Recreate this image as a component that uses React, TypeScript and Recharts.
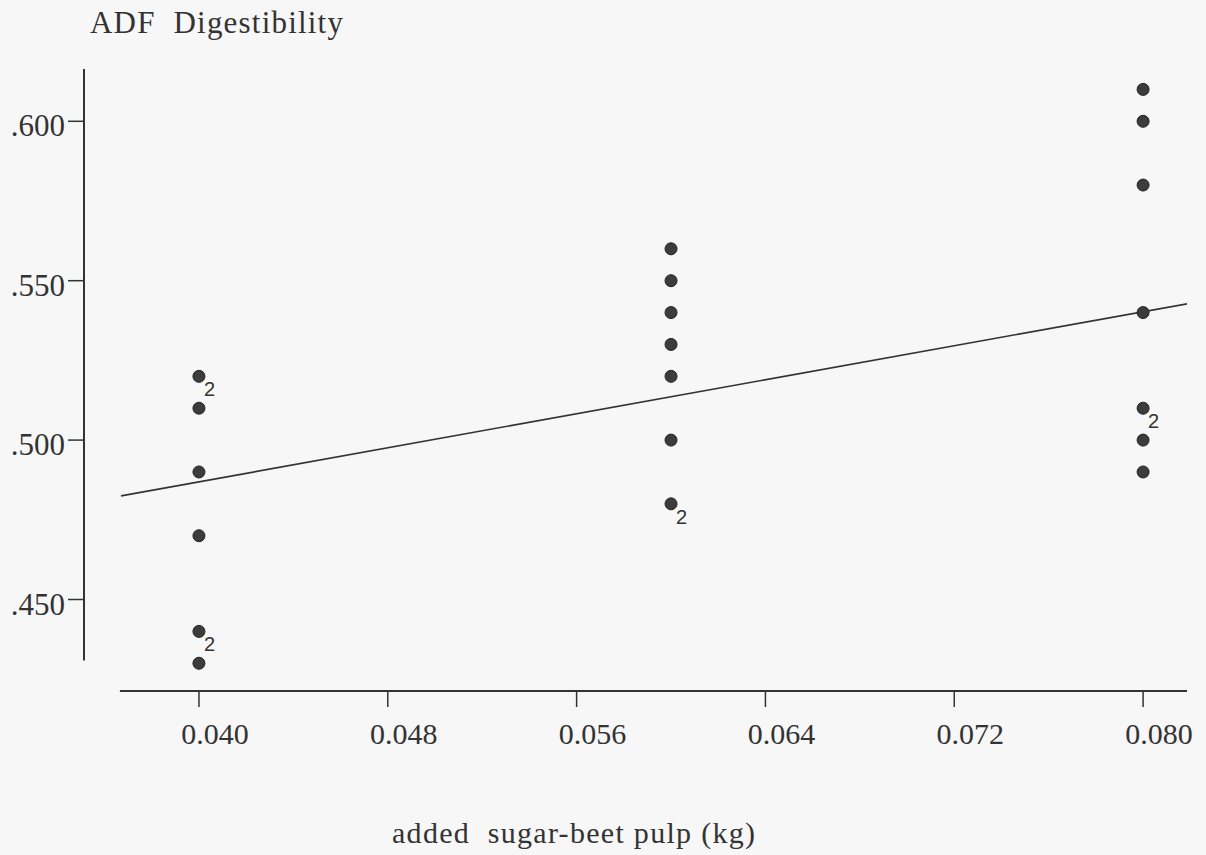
import React from 'react';
import { ScatterChart, Scatter, XAxis, YAxis, ReferenceLine } from 'recharts';

// pulp levels (kg) and the digestibility readings at each, with how many
// observations share the same value
const LEVELS = [0.04, 0.06, 0.08];
const LOW_VALUES = [0.52, 0.51, 0.49, 0.47, 0.44, 0.43];
const LOW_COUNTS = [2, 1, 1, 1, 2, 1];
const MID_VALUES = [0.56, 0.55, 0.54, 0.53, 0.52, 0.5, 0.48];
const MID_COUNTS = [1, 1, 1, 1, 1, 1, 2];
const HIGH_VALUES = [0.61, 0.6, 0.58, 0.54, 0.51, 0.5, 0.49];
const HIGH_COUNTS = [1, 1, 1, 1, 2, 1, 1];

// fitted line end points
const FIT_X = [0.0367, 0.0819];
const FIT_Y = [0.4825, 0.5428];

const X_TICKS = [0.04, 0.048, 0.056, 0.064, 0.072, 0.08];
const Y_TICKS = [0.45, 0.5, 0.55, 0.6];

const X_DOMAIN = [0.03513, 0.08186];
const Y_DOMAIN = [0.4213, 0.6164];
const Y_AXIS_BOTTOM = 0.4309;
const X_AXIS_START = 0.03665;

const groups = [
  { x: LEVELS[0], values: LOW_VALUES, counts: LOW_COUNTS },
  { x: LEVELS[1], values: MID_VALUES, counts: MID_COUNTS },
  { x: LEVELS[2], values: HIGH_VALUES, counts: HIGH_COUNTS },
];

const points = groups.flatMap((g) =>
  g.values.map((v, i) => ({ x: g.x, y: v, n: g.counts[i] }))
);

const fitLine = FIT_X.map((x, i) => ({ x, y: FIT_Y[i] }));

const INK = '#333';
const SERIF = '"Liberation Serif", "Times New Roman", serif';

const Dot = (props: any) => {
  const { cx, cy, payload } = props;
  return (
    <g>
      <circle cx={cx} cy={cy} r={6} fill="#3c3c3c" stroke="#222" strokeWidth={1} />
      {payload.n > 1 && (
        <text
          x={cx + 5}
          y={cy + 20}
          fontSize={20}
          fontFamily='"Liberation Sans", Arial, sans-serif'
          fill={INK}
        >
          {payload.n}
        </text>
      )}
    </g>
  );
};

const XTick = (props: any) => {
  const { x, y, payload } = props;
  return (
    <text
      x={x + 16}
      y={y}
      dy="0.71em"
      textAnchor="middle"
      fontSize={30}
      fontFamily={SERIF}
      fill={INK}
    >
      {payload.value.toFixed(3)}
    </text>
  );
};

const YTick = (props: any) => {
  const { x, y, payload } = props;
  return (
    <text
      x={x}
      y={y + 4}
      dy="0.36em"
      textAnchor="end"
      fontSize={31}
      fontFamily={SERIF}
      fill={INK}
    >
      {'.' + payload.value.toFixed(3).slice(2)}
    </text>
  );
};

export default function App() {
  return (
    <div
      style={{
        position: 'fixed',
        left: 0,
        top: 0,
        width: 1206,
        height: 855,
        background: '#f7f7f7',
        fontFamily: SERIF,
        color: INK,
      }}
    >
      <div
        style={{
          position: 'absolute',
          left: 90,
          top: 7,
          fontSize: 31,
          lineHeight: '31px',
          letterSpacing: 1.2,
          whiteSpace: 'pre',
        }}
      >
        ADF  Digestibility
      </div>
      <ScatterChart
        width={1206}
        height={855}
        margin={{ top: 69, right: 19, bottom: 0, left: 0 }}
      >
        <XAxis
          type="number"
          dataKey="x"
          domain={X_DOMAIN}
          ticks={X_TICKS}
          allowDataOverflow
          axisLine={false}
          tickLine={{ stroke: INK, strokeWidth: 1.5 }}
          tickSize={16}
          tickMargin={16}
          tick={<XTick />}
          height={164}
        />
        <YAxis
          type="number"
          dataKey="y"
          domain={Y_DOMAIN}
          ticks={Y_TICKS}
          allowDataOverflow
          axisLine={false}
          tickLine={{ stroke: INK, strokeWidth: 1.5 }}
          tickSize={16}
          tickMargin={3}
          tick={<YTick />}
          width={84}
        />
        <ReferenceLine
          segment={[
            { x: X_DOMAIN[0], y: Y_AXIS_BOTTOM },
            { x: X_DOMAIN[0], y: Y_DOMAIN[1] },
          ]}
          stroke={INK}
          strokeWidth={2}
          ifOverflow="visible"
        />
        <ReferenceLine
          segment={[
            { x: X_AXIS_START, y: Y_DOMAIN[0] },
            { x: X_DOMAIN[1], y: Y_DOMAIN[0] },
          ]}
          stroke={INK}
          strokeWidth={2}
          ifOverflow="visible"
        />
        <Scatter
          data={fitLine}
          line={{ stroke: INK, strokeWidth: 1.6 }}
          shape={() => null}
          isAnimationActive={false}
        />
        <Scatter data={points} shape={<Dot />} isAnimationActive={false} />
      </ScatterChart>
      <div
        style={{
          position: 'absolute',
          left: 392,
          top: 818,
          fontSize: 30,
          lineHeight: '30px',
          letterSpacing: 1.3,
          whiteSpace: 'pre',
        }}
      >
        added  sugar-beet pulp (kg)
      </div>
    </div>
  );
}
